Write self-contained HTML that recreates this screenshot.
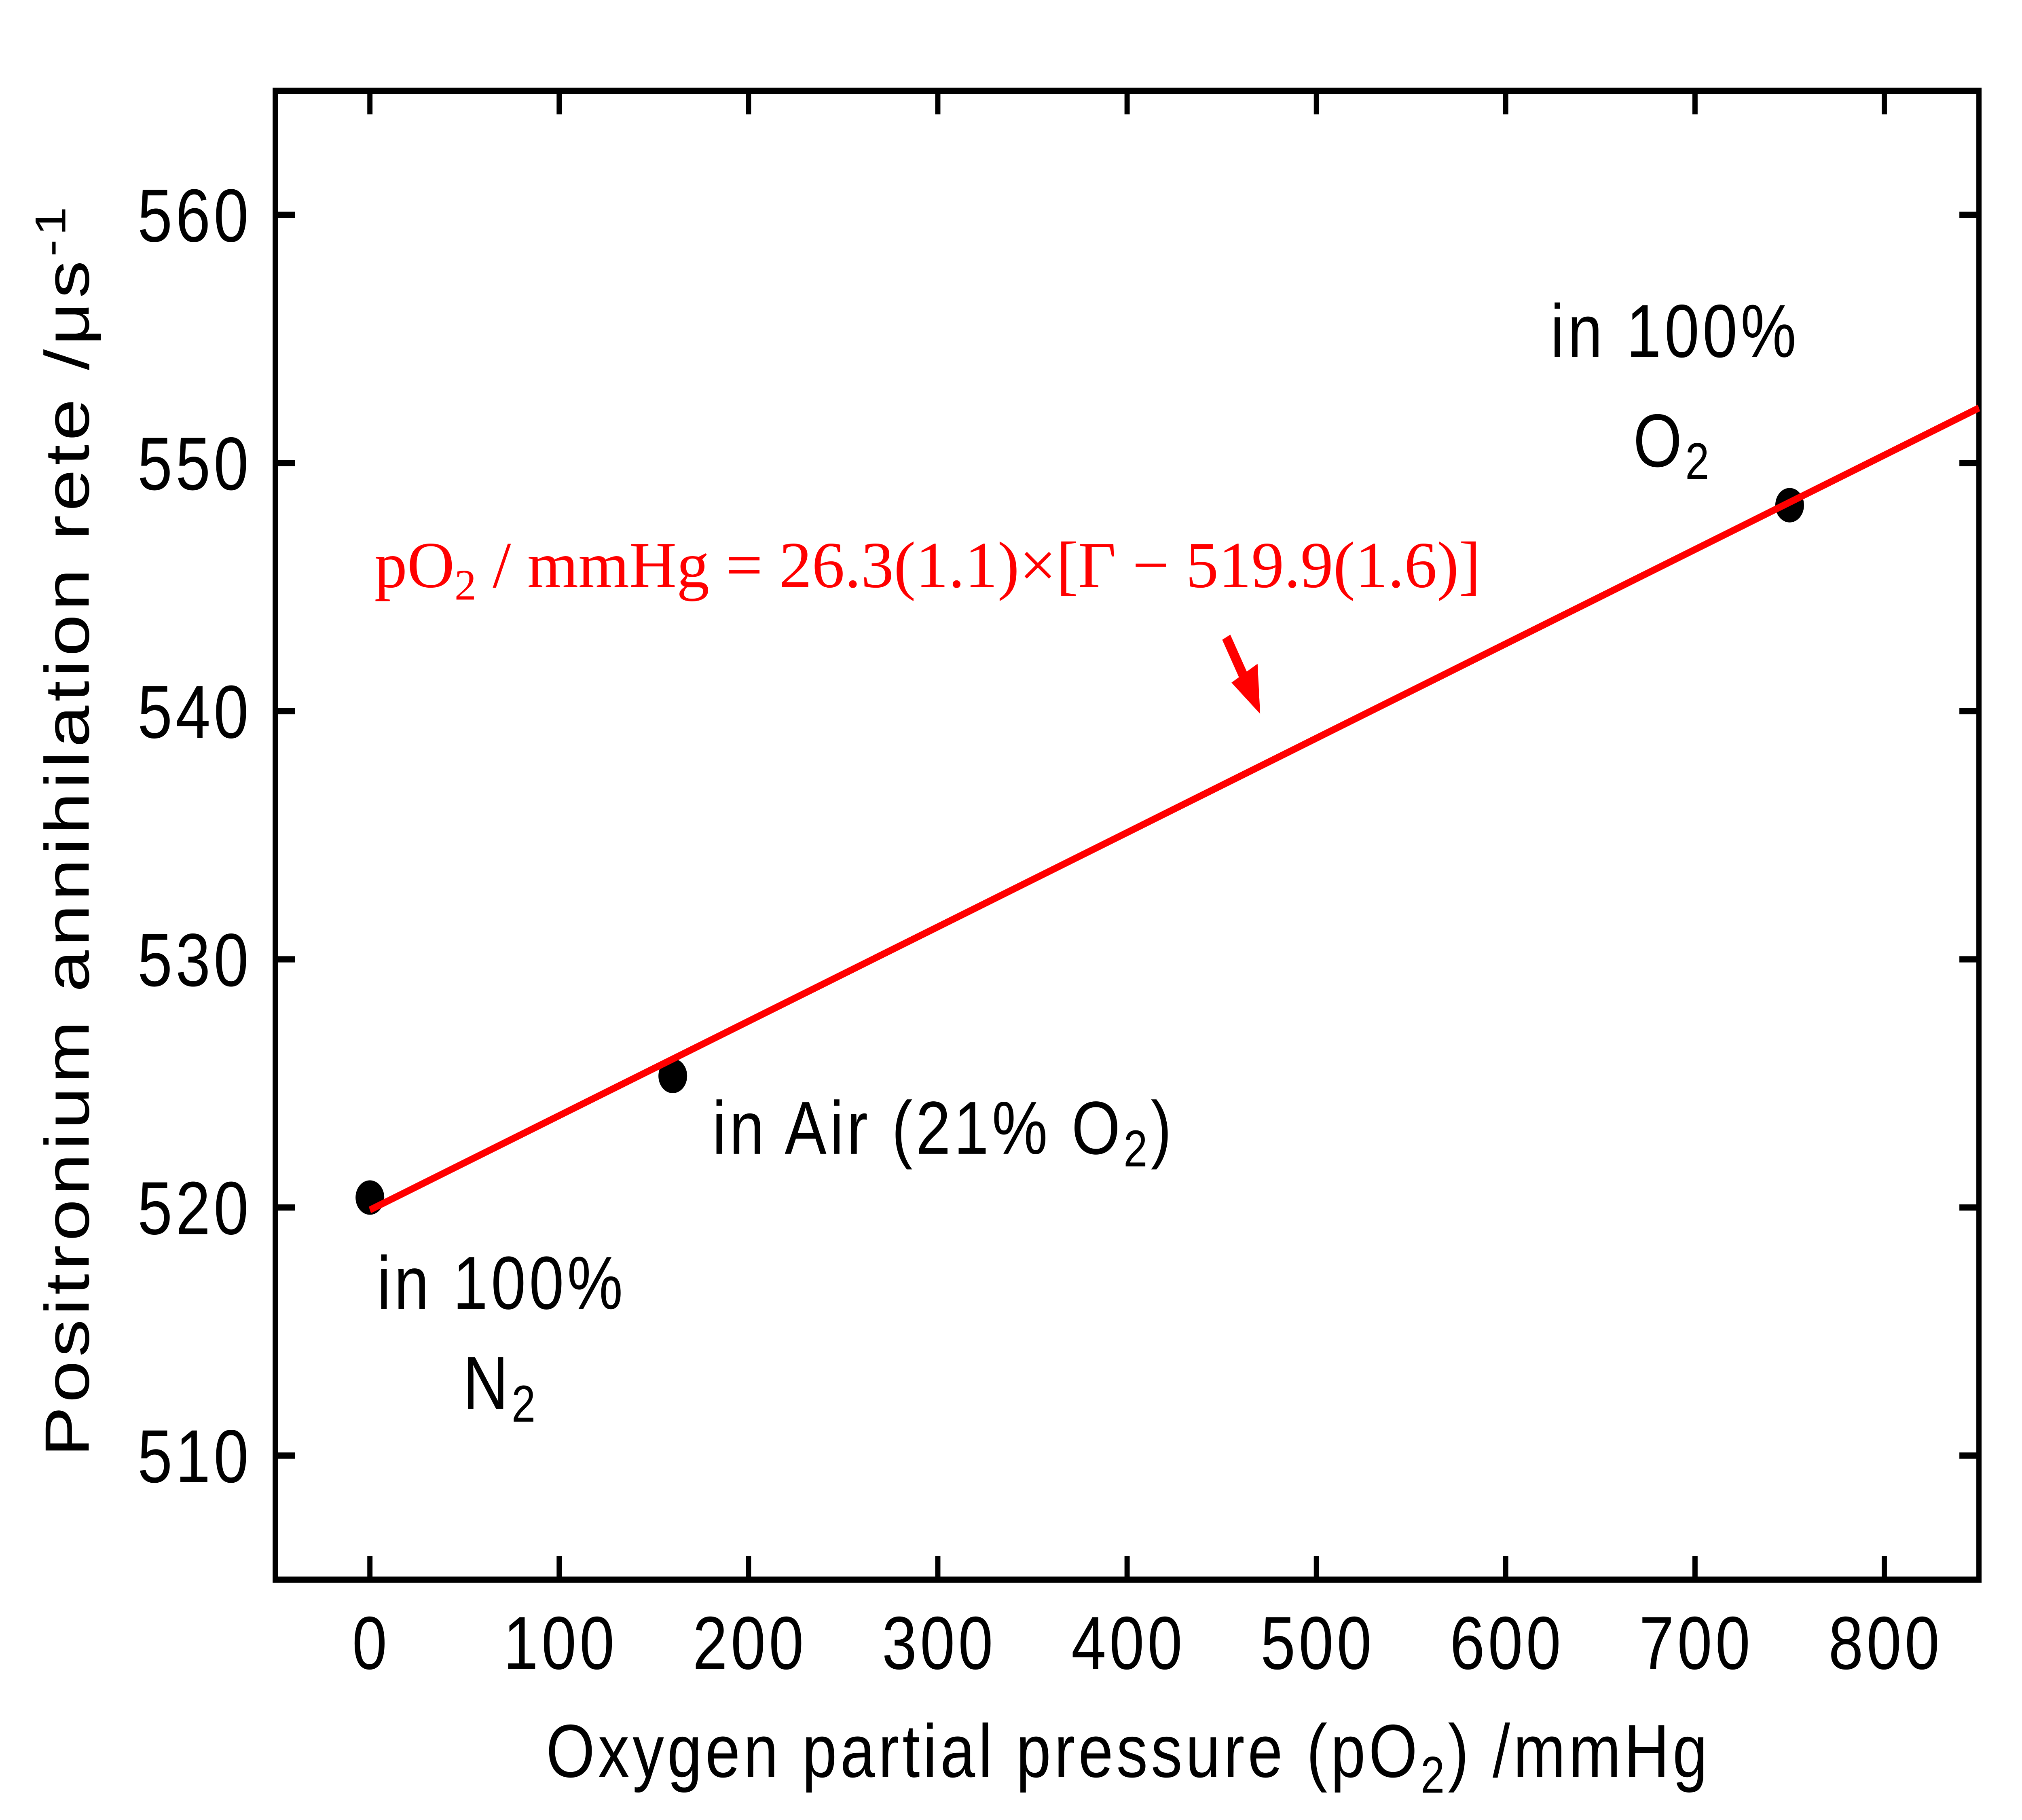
<!DOCTYPE html>
<html><head><meta charset="utf-8"><style>
html,body{margin:0;padding:0;background:#fff;width:100vw;height:100vh;overflow:hidden;}
svg{display:block;width:100vw;height:100vh;}
</style></head><body>
<svg id="chart" viewBox="0 0 1550 1162.5" preserveAspectRatio="none" xmlns="http://www.w3.org/2000/svg" font-family="Liberation Sans, sans-serif" letter-spacing="2.5">
<g id="axes"></g>
<g id="marks"></g>
<text x="865" y="1135" font-size="48" text-anchor="middle">Oxygen partial pressure (pO<tspan font-size="33" dy="10">2</tspan><tspan dy="-10">) /mmHg</tspan></text>
<text transform="translate(68,530) rotate(-90)" font-size="48" text-anchor="middle">Positronium annihilation rete /μs<tspan font-size="33" dy="-18">-1</tspan></text>
<text x="1284" y="228" font-size="48" text-anchor="middle">in 100%</text>
<text x="1252" y="298" font-size="48">O<tspan font-size="33" dy="8">2</tspan></text>
<text x="546" y="737" font-size="48">in Air (21% O<tspan font-size="33" dy="8">2</tspan><tspan dy="-8">)</tspan></text>
<text x="289" y="836" font-size="48">in 100%</text>
<text x="355" y="900" font-size="48">N<tspan font-size="33" dy="8">2</tspan></text>
<text x="287" y="375" font-size="42" fill="#ff0000" letter-spacing="0" style="font-family:'Liberation Serif',serif" textLength="848" lengthAdjust="spacingAndGlyphs">pO<tspan font-size="28" dy="8">2</tspan><tspan dy="-8"> / mmHg = 26.3(1.1)×[Γ − 519.9(1.6)]</tspan></text>
<g>
<line x1="940" y1="407" x2="955" y2="435" stroke="#ff0000" stroke-width="7"/>
<polygon points="944,436 966,456 964,424" fill="#ff0000"/>
</g>
<script>
const xTicks=[0,100,200,300,400,500,600,700,800];
const yTicks=[510,520,530,540,550,560];
const pointX=[0,160,750];
const pointY=[520.4,525.3,548.3];
const fitSlope=26.3;
const fitIntercept=519.9;
const fitRange=[0,850];
const L=211,R=1517,T=58,B=1009;
const xMin=-50,xMax=850,yMin=505,yMax=565;
const sx=v=>L+(v-xMin)/(xMax-xMin)*(R-L);
const sy=v=>B-(v-yMin)/(yMax-yMin)*(B-T);
const NS='http://www.w3.org/2000/svg';
const axes=document.getElementById('axes'),marks=document.getElementById('marks');
function mk(tag,attrs,parent){const e=document.createElementNS(NS,tag);for(const k in attrs)e.setAttribute(k,attrs[k]);parent.appendChild(e);return e;}
const frame=mk('rect',{x:L,y:T,width:R-L,height:B-T,fill:'none',stroke:'#000','stroke-width':4},axes);


xTicks.forEach(v=>{const x=sx(v);
 const t1=mk('line',{x1:x,y1:B,x2:x,y2:B-15,stroke:'#000','stroke-width':4},axes);
 
 
 const t2=mk('line',{x1:x,y1:T,x2:x,y2:T+15,stroke:'#000','stroke-width':4},axes);
 
 
 const lb=mk('text',{x:x+1,y:1066,'font-size':48,'text-anchor':'middle'},axes);lb.textContent=v;
 
 
});
yTicks.forEach(v=>{const y=sy(v);
 const t1=mk('line',{x1:L,y1:y,x2:L+15,y2:y,stroke:'#000','stroke-width':4},axes);
 
 
 const t2=mk('line',{x1:R,y1:y,x2:R-15,y2:y,stroke:'#000','stroke-width':4},axes);
 
 
 const lb=mk('text',{x:193,y:y+17,'font-size':48,'text-anchor':'end'},axes);lb.textContent=v;
 
 
});
const f=x=>fitIntercept+x/fitSlope;
pointX.forEach((x,i)=>{
 const c=mk('circle',{cx:sx(x),cy:sy(pointY[i]),r:11,fill:'#000'},marks);
 
 
});
const fit=mk('line',{x1:sx(fitRange[0]),y1:sy(f(fitRange[0])),x2:sx(fitRange[1]),y2:sy(f(fitRange[1])),stroke:'#ff0000','stroke-width':4.5},marks);


</script>
</svg>
</body></html>
